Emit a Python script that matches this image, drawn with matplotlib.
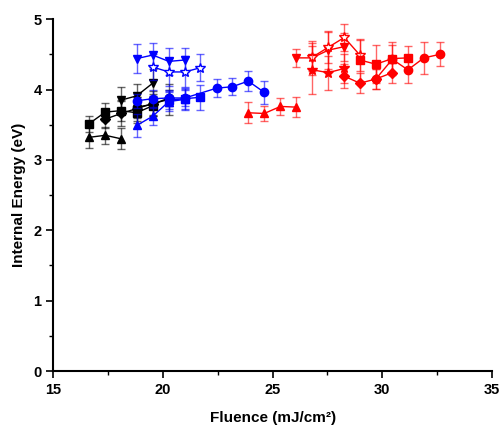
import matplotlib
matplotlib.use("Agg")
import matplotlib.pyplot as plt
from matplotlib.ticker import MultipleLocator

plt.rcParams['font.family'] = ['Liberation Sans', 'DejaVu Sans']

# ---- data: (x, y, yerr) per series ----
# black
bk_sq_x = [16.61, 17.37, 18.09, 18.80, 19.53]
bk_sq_y = [3.51, 3.68, 3.70, 3.67, 3.77]
bk_sq_e = [0.12, 0.13, 0.15, 0.15, 0.14]
bk_di_x = [17.37, 18.09, 18.80, 19.53, 20.27]
bk_di_y = [3.58, 3.66, 3.73, 3.80, 3.86]
bk_di_e = [0.13, 0.18, 0.17, 0.18, 0.22]
bk_tu_x = [16.61, 17.37, 18.09]
bk_tu_y = [3.32, 3.35, 3.30]
bk_tu_e = [0.15, 0.12, 0.15]
bk_td_x = [18.09, 18.80, 19.53]
bk_td_y = [3.85, 3.91, 4.09]
bk_td_e = [0.18, 0.17, 0.20]
bk_ci_x = [18.80, 19.53, 20.27]
bk_ci_y = [3.75, 3.79, 3.88]
bk_ci_e = [0.15, 0.15, 0.12]
# blue
bl_td_x = [18.80, 19.53, 20.27, 21.00]
bl_td_y = [4.44, 4.49, 4.40, 4.42]
bl_td_e = [0.21, 0.17, 0.19, 0.17]
bl_st_x = [19.53, 20.27, 21.00, 21.70]
bl_st_y = [4.32, 4.25, 4.25, 4.31]
bl_st_e = [0.18, 0.20, 0.22, 0.19]
bl_ci_x = [18.80, 19.53, 20.27, 21.00, 22.45, 23.16, 23.89, 24.62]
bl_ci_y = [3.84, 3.87, 3.88, 3.88, 4.02, 4.04, 4.12, 3.96]
bl_ci_e = [0.10, 0.12, 0.12, 0.12, 0.13, 0.12, 0.14, 0.16]
bl_sq_x = [20.27, 21.00, 21.70]
bl_sq_y = [3.85, 3.87, 3.89]
bl_sq_e = [0.13, 0.15, 0.18]
bl_tu_x = [18.80, 19.53, 20.27, 21.00]
bl_tu_y = [3.49, 3.62, 3.83, 3.86]
bl_tu_e = [0.16, 0.12, 0.14, 0.15]
# red
rd_tu_x = [23.89, 24.62, 25.36, 26.08]
rd_tu_y = [3.67, 3.66, 3.76, 3.75]
rd_tu_e = [0.15, 0.10, 0.12, 0.14]
rd_td_x = [26.08, 26.81, 27.54, 28.27]
rd_td_y = [4.45, 4.45, 4.56, 4.61]
rd_td_e = [0.13, 0.24, 0.27, 0.20]
rd_os_x = [26.81, 27.54, 28.27, 28.98]
rd_os_y = [4.46, 4.60, 4.74, 4.49]
rd_os_e = [0.20, 0.22, 0.19, 0.22]
rd_fs_x = [26.81, 27.54, 28.27]
rd_fs_y = [4.28, 4.24, 4.30]
rd_fs_e = [0.34, 0.24, 0.20]
rd_di_x = [28.27, 28.98, 29.71, 30.46]
rd_di_y = [4.19, 4.09, 4.15, 4.24]
rd_di_e = [0.17, 0.14, 0.14, 0.14]
rd_sq_x = [28.98, 29.71, 30.46, 31.17]
rd_sq_y = [4.42, 4.36, 4.44, 4.45]
rd_sq_e = [0.30, 0.27, 0.24, 0.17]
rd_ci_x = [29.71, 30.46, 31.17, 31.90, 32.63]
rd_ci_y = [4.15, 4.43, 4.28, 4.45, 4.50]
rd_ci_e = [0.14, 0.20, 0.19, 0.23, 0.17]

series = [
    (bk_sq_x, bk_sq_y, bk_sq_e, 'black', 's', True),
    (bk_di_x, bk_di_y, bk_di_e, 'black', 'D', True),
    (bk_tu_x, bk_tu_y, bk_tu_e, 'black', '^', True),
    (bk_td_x, bk_td_y, bk_td_e, 'black', 'v', True),
    (bk_ci_x, bk_ci_y, bk_ci_e, 'black', 'o', True),
    (bl_td_x, bl_td_y, bl_td_e, 'blue', 'v', True),
    (bl_st_x, bl_st_y, bl_st_e, 'blue', '*', False),
    (bl_ci_x, bl_ci_y, bl_ci_e, 'blue', 'o', True),
    (bl_sq_x, bl_sq_y, bl_sq_e, 'blue', 's', True),
    (bl_tu_x, bl_tu_y, bl_tu_e, 'blue', '^', True),
    (rd_tu_x, rd_tu_y, rd_tu_e, 'red', '^', True),
    (rd_td_x, rd_td_y, rd_td_e, 'red', 'v', True),
    (rd_os_x, rd_os_y, rd_os_e, 'red', '*', False),
    (rd_fs_x, rd_fs_y, rd_fs_e, 'red', '*', True),
    (rd_di_x, rd_di_y, rd_di_e, 'red', 'D', True),
    (rd_sq_x, rd_sq_y, rd_sq_e, 'red', 's', True),
    (rd_ci_x, rd_ci_y, rd_ci_e, 'red', 'o', True),
]

fig = plt.figure(figsize=(5.0, 4.26), dpi=100)
ax = fig.add_axes([0.1067, 0.129, 0.877, 0.826])

for x, y, e, c, m, filled in series:
    ms = 7.5 if m == '*' else (5 if m == 'D' else 6)
    ax.errorbar(x, y, yerr=e, fmt='none', ecolor=c, elinewidth=1.0, capsize=3,
                capthick=1.0, alpha=0.6)
    ax.plot(x, y, color=c, marker=m, markersize=ms, linewidth=1.0,
            markerfacecolor=c if filled else 'white', markeredgecolor=c,
            markeredgewidth=1.0)

ax.set_xlim(15, 35)
ax.set_ylim(0, 5)
ax.xaxis.set_major_locator(MultipleLocator(5))
ax.xaxis.set_minor_locator(MultipleLocator(2.5))
ax.yaxis.set_major_locator(MultipleLocator(1))
ax.yaxis.set_minor_locator(MultipleLocator(0.5))
for s in ['top', 'right']:
    ax.spines[s].set_visible(False)
for s in ['left', 'bottom']:
    ax.spines[s].set_linewidth(1.5)
ax.tick_params(which='major', direction='out', length=5, width=1.2, labelsize=10.5)
ax.tick_params(which='minor', direction='out', length=3, width=1.0)
for lab in ax.get_xticklabels() + ax.get_yticklabels():
    lab.set_fontweight('bold')

ax.set_xlabel('Fluence (mJ/cm²)', fontsize=11, fontweight='bold', labelpad=10)
ax.set_ylabel('Internal Energy (eV)', fontsize=11, fontweight='bold', labelpad=5)

fig.savefig('out.png', dpi=100)
